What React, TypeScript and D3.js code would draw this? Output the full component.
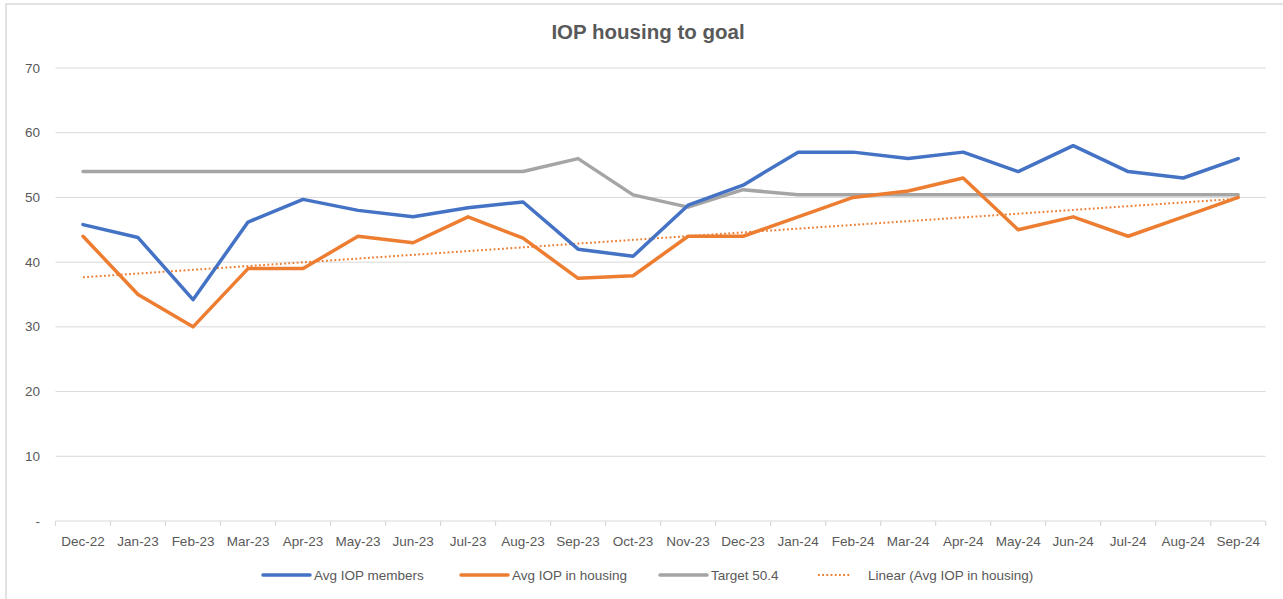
import React from "react";
import * as d3 from "d3";

const categories = ["Dec-22","Jan-23","Feb-23","Mar-23","Apr-23","May-23","Jun-23","Jul-23","Aug-23","Sep-23","Oct-23","Nov-23","Dec-23","Jan-24","Feb-24","Mar-24","Apr-24","May-24","Jun-24","Jul-24","Aug-24","Sep-24"];
const avgMembers = [45.8,43.8,34.2,46.2,49.7,48.0,47.0,48.4,49.3,42.0,40.9,48.8,51.9,57,57,56,57,54,58,54,53,56];
const avgHousing = [44,35,30,39,39,44,43,47,43.7,37.5,37.9,44,44,47,50,51,53,45,47,44,47,50];
const target = [54,54,54,54,54,54,54,54,54,56,50.4,48.5,51.2,50.4,50.4,50.4,50.4,50.4,50.4,50.4,50.4,50.4];
const yTicks = [0,10,20,30,40,50,60,70];
const yTickLabels = ["-","10","20","30","40","50","60","70"];
const title = "IOP housing to goal";
const legendLabels = ["Avg IOP members","Avg IOP in housing","Target 50.4","Linear (Avg IOP in housing)"];

const W = 1283, H = 599;
const FONT = "'Liberation Sans', Arial, sans-serif";
const TXT = "#595959";

export default function App() {
  const x = d3.scaleBand().domain(categories).range([55.5, 1265.7]);
  const y = d3.scaleLinear().domain([0, 70]).range([521, 68]);
  const cx = (c: string) => (x(c) as number) + x.bandwidth() / 2;
  const line = d3.line<number>().x((_, i) => cx(categories[i])).y((d) => y(d));

  // linear trend of housing series
  const n = avgHousing.length;
  const xs = d3.range(n);
  const mx = d3.mean(xs) as number;
  const my = d3.mean(avgHousing) as number;
  const slope = d3.sum(xs, (i) => (i - mx) * (avgHousing[i] - my)) / d3.sum(xs, (i) => (i - mx) ** 2);
  const icpt = my - slope * mx;
  const trend = xs.map((i) => icpt + slope * i);

  const ticksX = [...categories.map((c) => x(c) as number), 1265.7];

  const legendItems = [
    { label: legendLabels[0], color: "#4472C4", x0: 263, x1: 310, tx: 314, dash: undefined, w: 3.5 },
    { label: legendLabels[1], color: "#ED7D31", x0: 461, x1: 508, tx: 512, dash: undefined, w: 3.5 },
    { label: legendLabels[2], color: "#A5A5A5", x0: 660, x1: 707, tx: 711, dash: undefined, w: 3.5 },
    { label: legendLabels[3], color: "#ED7D31", x0: 818, x1: 851, tx: 868, dash: "1.8 2.4", w: 2 },
  ];

  return (
    <svg width={W} height={H} style={{ position: "absolute", left: 0, top: 0, background: "#fff" }} fontFamily={FONT}>
      <rect x={6} y={4} width={W} height={H} fill="#fff" stroke="#d9d9d9" strokeWidth={1.5} />
      <text x={648} y={39} textAnchor="middle" fontSize={20.5} fontWeight="bold" fill={TXT}>{title}</text>
      {yTicks.map((t, i) => (
        <g key={t}>
          {t !== 0 && <line x1={55.5} x2={1265.7} y1={y(t)} y2={y(t)} stroke="#d9d9d9" strokeWidth={1} />}
          <text x={40} y={y(t) + 4.5} textAnchor="end" fontSize={13.5} fill={TXT}>{yTickLabels[i]}</text>
        </g>
      ))}
      <line x1={55.5} x2={1265.7} y1={y(0)} y2={y(0)} stroke="#d9d9d9" strokeWidth={1.2} />
      {ticksX.map((tx, i) => (
        <line key={i} x1={tx} x2={tx} y1={y(0)} y2={y(0) + 5} stroke="#d9d9d9" strokeWidth={1.2} />
      ))}
      {categories.map((c) => (
        <text key={c} x={cx(c)} y={546} textAnchor="middle" fontSize={13.5} fill={TXT}>{c}</text>
      ))}
      <path d={line(trend) as string} fill="none" stroke="#ED7D31" strokeWidth={2} strokeDasharray="1.8 2.4" />
      <path d={line(target) as string} fill="none" stroke="#A5A5A5" strokeWidth={3.5} strokeLinejoin="round" strokeLinecap="round" />
      <path d={line(avgHousing) as string} fill="none" stroke="#ED7D31" strokeWidth={3.5} strokeLinejoin="round" strokeLinecap="round" />
      <path d={line(avgMembers) as string} fill="none" stroke="#4472C4" strokeWidth={3.5} strokeLinejoin="round" strokeLinecap="round" />
      {legendItems.map((it) => (
        <g key={it.label}>
          <line x1={it.x0} x2={it.x1} y1={575} y2={575} stroke={it.color} strokeWidth={it.w} strokeDasharray={it.dash} strokeLinecap={it.dash ? "butt" : "round"} />
          <text x={it.tx} y={580} fontSize={13.5} fill={TXT}>{it.label}</text>
        </g>
      ))}
    </svg>
  );
}
